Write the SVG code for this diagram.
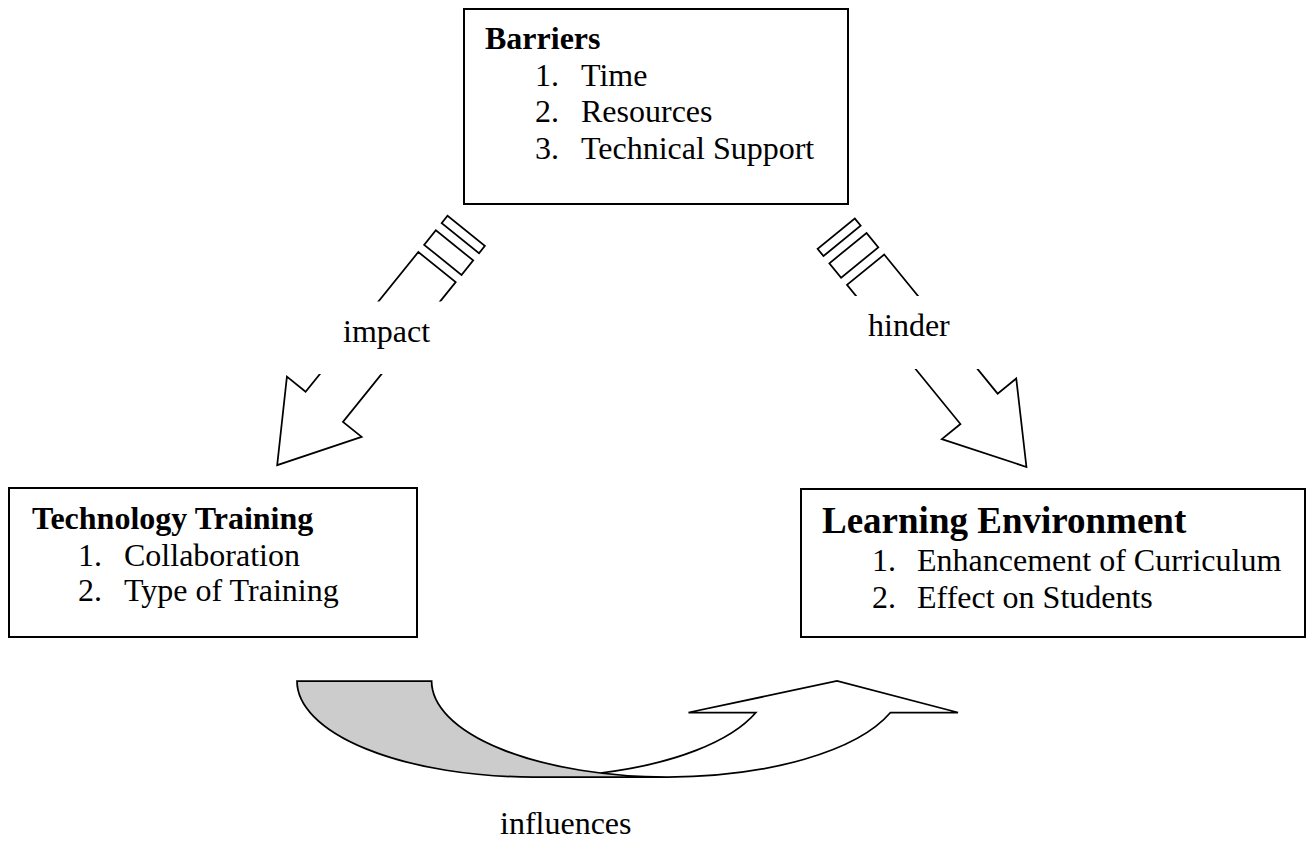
<svg xmlns="http://www.w3.org/2000/svg" width="1309" height="842" viewBox="0 0 1309 842">
  <style>
    .box { fill: #ffffff; stroke: #000000; stroke-width: 2; }
    .txt { font-family: "Liberation Serif", "Times New Roman", serif; font-size: 32px; fill: #000000; }
    .title { font-weight: bold; }
    .big { font-size: 37px; }
    .arrow { fill: #ffffff; stroke: #000000; stroke-width: 1.75; stroke-linejoin: miter; }
    .mask { fill: #ffffff; stroke: none; }
    .shade { fill: #cccccc; stroke: none; }
    .outline { fill: none; stroke: #000000; stroke-width: 1.75; }
  </style>
  <defs>
    <!-- striped block arrow pointing along +x, tail at origin -->
    <g id="striped-arrow">
      <rect class="arrow" x="0" y="-24" width="9.3" height="48"/>
      <rect class="arrow" x="18.6" y="-24" width="18.6" height="48"/>
      <path class="arrow" d="M46.5,-24 H226 V-48 L301,0 L226,48 V24 H46.5 Z"/>
    </g>
  </defs>
  <rect width="1309" height="842" fill="#ffffff"/>

  <g id="connectors">
    <!-- Barriers -> Technology Training -->
    <g id="edge-impact">
      <use href="#striped-arrow" transform="translate(466.2,230.9) rotate(128.9)"/>
      <rect class="mask" x="316" y="301.5" width="140" height="72.5"/>
      <text class="txt" x="343" y="342">impact</text>
    </g>
    <!-- Barriers -> Learning Environment -->
    <g id="edge-hinder">
      <use href="#striped-arrow" transform="translate(836.2,233.7) rotate(50.8)"/>
      <rect class="mask" x="836" y="296" width="145" height="73"/>
      <text class="txt" x="868" y="336">hinder</text>
    </g>
    <!-- Technology Training -> Learning Environment (curved up arrow) -->
    <g id="edge-influences">
      <path fill="#ffffff" stroke="none" d="M600.3,773 A236,96 0 0 0 755.9,712.5 L688.5,712.5 L837,681 L958,712.5 L890.5,712.5 A236,96 0 0 1 667.6,777 A236,96 0 0 1 600.3,773 Z"/>
      <path class="shade" d="M533,777 A236,96 0 0 1 297,681 L431.6,681 A236,96 0 0 0 667.6,777 Z"/>
      <path class="outline" d="M600.3,773 A236,96 0 0 0 755.9,712.5 L688.5,712.5 L837,681 L958,712.5 L890.5,712.5 A236,96 0 0 1 667.6,777 L533,777 A236,96 0 0 1 297,681 L431.6,681 A236,96 0 0 0 667.6,777"/>
      <text class="txt" x="500" y="834">influences</text>
    </g>
  </g>

  <g id="barriers">
    <rect class="box" x="464" y="9" width="384" height="195"/>
    <text class="txt title" x="485" y="48.5">Barriers</text>
    <text class="txt" x="535" y="86">1.</text>
    <text class="txt" x="581" y="86">Time</text>
    <text class="txt" x="535" y="122">2.</text>
    <text class="txt" x="581" y="122">Resources</text>
    <text class="txt" x="535" y="158.5">3.</text>
    <text class="txt" x="581" y="158.5">Technical Support</text>
  </g>

  <g id="technology-training">
    <rect class="box" x="9" y="488" width="408" height="149"/>
    <text class="txt title" x="32" y="529">Technology Training</text>
    <text class="txt" x="78" y="566">1.</text>
    <text class="txt" x="124" y="566">Collaboration</text>
    <text class="txt" x="78" y="601">2.</text>
    <text class="txt" x="124" y="601">Type of Training</text>
  </g>

  <g id="learning-environment">
    <rect class="box" x="801" y="489" width="504" height="148"/>
    <text class="txt title big" x="822" y="533">Learning Environment</text>
    <text class="txt" x="872" y="571">1.</text>
    <text class="txt" x="917" y="571">Enhancement of Curriculum</text>
    <text class="txt" x="872" y="608">2.</text>
    <text class="txt" x="917" y="608">Effect on Students</text>
  </g>
</svg>
